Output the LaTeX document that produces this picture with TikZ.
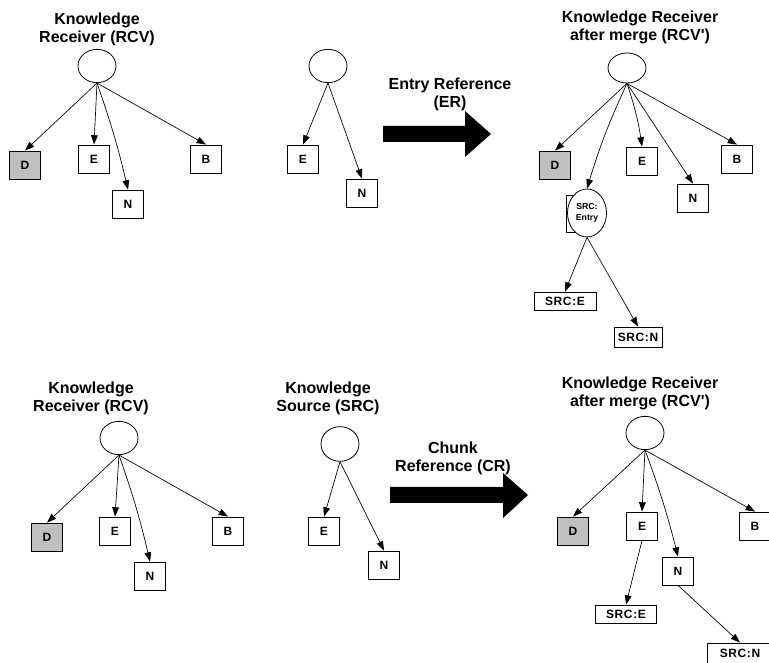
\documentclass[tikz,border=0pt]{standalone}
\usepackage{fontspec}
\setmainfont{Liberation Sans}
\newfontfamily\boxfont[LetterSpace=5]{Liberation Sans}
\usetikzlibrary{shapes.geometric,arrows.meta}
\begin{document}
\begin{tikzpicture}[x=0.75pt,y=-0.75pt,
 box/.style={draw,line width=0.6pt,inner sep=0pt,minimum width=23.25pt,minimum height=21pt,font=\boxfont\bfseries\fontsize{9}{10}\selectfont},
 gbox/.style={box,fill=black!25},
 wbox/.style={draw,fill=white,line width=0.6pt,inner sep=0pt,minimum height=13.5pt,font=\boxfont\bfseries\fontsize{9}{10}\selectfont},
 root/.style={draw,ellipse,line width=0.6pt,inner sep=0pt,minimum width=28.5pt,minimum height=25pt},
 ttl/.style={align=center,font=\bfseries\fontsize{12}{13.5}\selectfont},
 edge/.style={-{Triangle[length=7pt,width=5pt]},line width=0.5pt},
 bigarrow/.style={fill=black}
]
\useasboundingbox (0,0) rectangle (769,663);

% ---------- top-left: Knowledge Receiver ----------
\node[ttl] (ta) at (97,29) {Knowledge\\Receiver (RCV)};
\node[root] (a) at (97,66) {};
\node[gbox] (aD) at (25,165) {D};
\node[box] (aE) at (94,159) {E};
\node[box] (aN) at (128,204) {N};
\node[box] (aB) at (206,159) {B};
\draw[edge] (a.south) -- (aD.north);
\draw[edge] (a.south) -- (aE.north);
\draw[edge] (a.south) to[bend left=3] (aN.north);
\draw[edge] (a.south) -- (aB.north);

% ---------- top-middle ----------
\node[root] (b) at (328,66) {};
\node[box] (bE) at (303,159) {E};
\node[box] (bN) at (362,193) {N};
\draw[edge] (b.south) -- (bE.north);
\draw[edge] (b.south) -- (bN.north);

% ER arrow
\node[ttl] (er) at (450,94) {Entry Reference\\(ER)};
\fill[bigarrow] (383,126) -- (465,126) -- (465,111) -- (491,134) -- (465,157) -- (465,142) -- (383,142) -- cycle;

% ---------- top-right: after merge ----------
\node[ttl] (tc) at (640,27) {Knowledge Receiver\\after merge (RCV\textquotesingle)};
\node[root,minimum height=22.5pt] (c) at (627,68) {};
\node[gbox] (cD) at (555,165) {D};
\node[box] (cE) at (642,161) {E};
\node[box] (cN) at (693,198) {N};
\node[box] (cB) at (737,159) {B};
\draw[line width=0.6pt] (596,195) -- (566,195) -- (566,232) -- (596,232);
\node[draw,ellipse,fill=white,line width=0.6pt,inner sep=0pt,minimum width=29.25pt,minimum height=36pt,align=center,font=\bfseries\fontsize{6.5}{8}\selectfont] (cS) at (587,213) {SRC:\\Entry};
\node[wbox,minimum width=46.5pt] (cSE) at (565,301) {SRC:E};
\node[wbox,minimum width=36pt,minimum height=15pt] (cSN) at (638,337) {SRC:N};
\draw[edge] (c.south) -- (cD.north);
\draw[edge] (c.south) to[bend right=4] (cS.north);
\draw[edge] (c.south) to[bend left=5] (cE.north);
\draw[edge] (c.south) -- (cN.north);
\draw[edge] (c.south) -- (cB.north);
\draw[edge] (cS.south) -- (cSE.north);
\draw[edge] (cS.south) -- (cSN.north);

% ---------- bottom-left: Knowledge Receiver ----------
\node[ttl] (td) at (91,398) {Knowledge\\Receiver (RCV)};
\node[root] (d) at (119,438) {};
\node[gbox] (dD) at (47,537) {D};
\node[box] (dE) at (115,531) {E};
\node[box] (dN) at (150,576) {N};
\node[box] (dB) at (228,531) {B};
\draw[edge] (d.south) -- (dD.north);
\draw[edge] (d.south) -- (dE.north);
\draw[edge] (d.south) to[bend left=3] (dN.north);
\draw[edge] (d.south) -- (dB.north);

% ---------- bottom-middle: Knowledge Source ----------
\node[ttl] (te) at (328,398) {Knowledge\\Source (SRC)};
\node[root,minimum height=26pt] (e) at (340,444) {};
\node[box] (eE) at (324,531) {E};
\node[box] (eN) at (384,565) {N};
\draw[edge] (e.south) -- (eE.north);
\draw[edge] (e.south) -- (eN.north);

% CR arrow
\node[ttl] (cr) at (453,458) {Chunk\\Reference (CR)};
\fill[bigarrow] (390,487) -- (503,487) -- (503,473) -- (528,495) -- (503,518) -- (503,503) -- (390,503) -- cycle;

% ---------- bottom-right: after merge ----------
\node[ttl] (tf) at (640,393) {Knowledge Receiver\\after merge (RCV\textquotesingle)};
\node[root] (f) at (645,433) {};
\node[gbox] (fD) at (573,531) {D};
\node[box] (fE) at (642,526) {E};
\node[box] (fN) at (678,571) {N};
\node[box] (fB) at (755,526) {B};
\node[wbox,minimum width=45.75pt] (fSE) at (626,614) {SRC:E};
\node[wbox,minimum width=49.5pt,minimum height=15pt] (fSN) at (740,653) {SRC:N};
\draw[edge] (f.south) -- (fD.north);
\draw[edge] (f.south) -- (fE.north);
\draw[edge] (f.south) to[bend left=3] (fN.north);
\draw[edge] (f.south) -- (fB.north);
\draw[edge] (fE.south) -- (fSE.north);
\draw[edge] (fN.south) -- (fSN.north);
\end{tikzpicture}
\end{document}
